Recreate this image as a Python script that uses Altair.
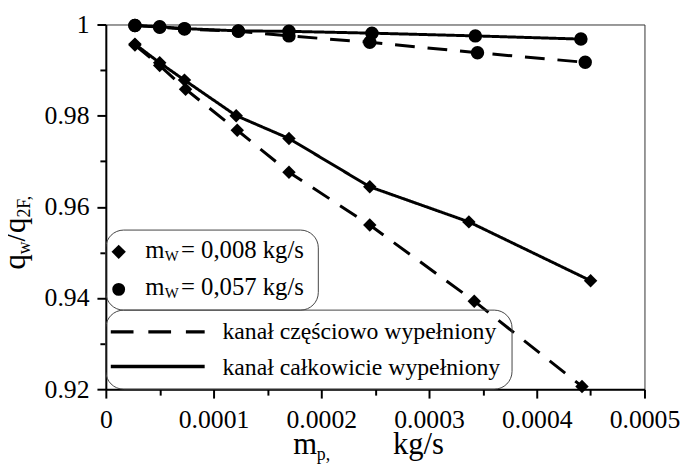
import altair as alt
import pandas as pd

FONT = "Liberation Serif"

# ---- data ----
# diamonds, m_W = 0,008 kg/s
x_dia_dash = [0.000027, 0.000050, 0.000074, 0.000122, 0.000170, 0.000245, 0.000342, 0.000442]
y_dia_dash = [0.9955, 0.9910, 0.9858, 0.9768, 0.9676, 0.9560, 0.9393, 0.9206]
x_dia_solid = [0.000027, 0.000050, 0.000073, 0.000121, 0.000170, 0.000245, 0.000337, 0.000450]
y_dia_solid = [0.9957, 0.9916, 0.9878, 0.9800, 0.9750, 0.9644, 0.9567, 0.9438]
# circles, m_W = 0,057 kg/s
x_cir_dash = [0.000027, 0.000050, 0.000073, 0.000123, 0.000170, 0.000245, 0.000345, 0.000445]
y_cir_dash = [0.9998, 0.9994, 0.9990, 0.9985, 0.9975, 0.9961, 0.9938, 0.9917]
x_cir_solid = [0.000027, 0.000050, 0.000073, 0.000123, 0.000170, 0.000247, 0.000343, 0.000441]
y_cir_solid = [0.9998, 0.9995, 0.9991, 0.9986, 0.9985, 0.9981, 0.9975, 0.9968]

x_major = [0, 0.0001, 0.0002, 0.0003, 0.0004, 0.0005]
x_minor = [0.00005, 0.00015, 0.00025, 0.00035, 0.00045]
y_major = [0.92, 0.94, 0.96, 0.98, 1.0]
y_minor = [0.93, 0.95, 0.97, 0.99]

legend_marker_labels = ["= 0,008 kg/s", "= 0,057 kg/s"]
legend_line_labels = ["kanał częściowo wypełniony", "kanał całkowicie wypełniony"]

series = [
    ("dia_dash", x_dia_dash, y_dia_dash, "diamond", "dashed"),
    ("dia_solid", x_dia_solid, y_dia_solid, "diamond", "solid"),
    ("cir_dash", x_cir_dash, y_cir_dash, "circle", "dashed"),
    ("cir_solid", x_cir_solid, y_cir_solid, "circle", "solid"),
]
rows = []
for name, xs, ys, marker, dash in series:
    for i, (xv, yv) in enumerate(zip(xs, ys)):
        rows.append({"series": name, "x": xv, "y": yv, "marker": marker, "dash": dash, "order": i})
df = pd.DataFrame(rows)
one = pd.DataFrame({"a": [0]})

xscale = alt.Scale(domain=[0, 0.0005], nice=False, zero=False)
yscale = alt.Scale(domain=[0.92, 1.0], nice=False, zero=False)

common = dict(labelFont=FONT, labelFontSize=26, labelColor="black", tickColor="black",
              tickWidth=2, tickSize=9, domainColor="black", domainWidth=2, grid=False,
              title=None, format="~f", labelFlush=False, labelOverlap=False)
x_axis = alt.Axis(values=x_major, labelPadding=9, orient="bottom", **common)
y_axis = alt.Axis(values=y_major, labelPadding=8, orient="left", **common)
x_minor_axis = alt.Axis(values=x_minor, labels=False, domain=False, tickSize=6, tickWidth=2,
                        tickColor="black", grid=False, title=None, orient="bottom")
y_minor_axis = alt.Axis(values=y_minor, labels=False, domain=False, tickSize=6, tickWidth=2,
                        tickColor="black", grid=False, title=None, orient="left")

base = alt.Chart(df)

lines = base.mark_line(color="black", strokeWidth=3).encode(
    x=alt.X("x:Q", scale=xscale, axis=x_axis),
    y=alt.Y("y:Q", scale=yscale, axis=y_axis),
    detail="series:N",
    order="order:Q",
    strokeDash=alt.StrokeDash("dash:N", scale=alt.Scale(domain=["dashed", "solid"],
                                                        range=[[20, 13], [1, 0]]), legend=None),
)

points = base.mark_point(filled=True, color="black", opacity=1, size=185).encode(
    x=alt.X("x:Q", scale=xscale, axis=None),
    y=alt.Y("y:Q", scale=yscale, axis=None),
    shape=alt.Shape("marker:N", scale=alt.Scale(domain=["diamond", "circle"],
                                                range=["diamond", "circle"]), legend=None),
)

minor = base.mark_point(opacity=0).encode(
    x=alt.X("x:Q", scale=xscale, axis=x_minor_axis),
    y=alt.Y("y:Q", scale=yscale, axis=y_minor_axis),
)

# ---- legend boxes ----
box1 = alt.Chart(one).mark_rect(fill="transparent", stroke="#444", strokeWidth=1, cornerRadius=18).encode(
    x=alt.value(0), x2=alt.value(215), y=alt.value(208), y2=alt.value(289))
box2 = alt.Chart(one).mark_rect(fill="transparent", stroke="#444", strokeWidth=1, cornerRadius=18).encode(
    x=alt.value(0), x2=alt.value(411), y=alt.value(289), y2=alt.value(369))

sym1 = alt.Chart(one).mark_point(shape="diamond", filled=True, color="black", opacity=1, size=210).encode(
    x=alt.value(13), y=alt.value(230))
sym2 = alt.Chart(one).mark_point(shape="circle", filled=True, color="black", opacity=1, size=170).encode(
    x=alt.value(13), y=alt.value(268))
rule1 = alt.Chart(one).mark_rule(color="black", strokeWidth=3.5, strokeDash=[23, 15]).encode(
    x=alt.value(5), x2=alt.value(100), y=alt.value(311))
rule2 = alt.Chart(one).mark_rule(color="black", strokeWidth=3.5).encode(
    x=alt.value(5), x2=alt.value(100), y=alt.value(346))


def txt(s, x, y, size, angle=0):
    kw = dict(align="left", baseline="alphabetic", font=FONT, fontSize=size, color="black")
    if angle:
        kw["angle"] = angle
    return alt.Chart(one).mark_text(**kw).encode(x=alt.value(x), y=alt.value(y), text=alt.value(s))


texts = [
    txt("m", 40, 236, 25), txt("W", 59.5, 239, 15), txt(legend_marker_labels[0], 76, 236, 25),
    txt("m", 40, 274, 25), txt("W", 59.5, 277, 15), txt(legend_marker_labels[1], 76, 274, 25),
    txt(legend_line_labels[0], 118, 318, 24),
    txt(legend_line_labels[1], 118, 355, 24),
    # x-axis title
    txt("m", 189.5, 434.7, 31), txt("p,", 213.5, 440.5, 18), txt("kg/s", 290.5, 434.7, 31),
    # y-axis title (rotated)
    txt("q", -82, 248, 31, 270), txt("w", -77, 232.5, 18, 270), txt("/", -82, 219.5, 31, 270),
    txt("q", -82, 210.9, 31, 270), txt("2F,", -77, 195.4, 18, 270),
]

chart = alt.layer(lines, points, minor, box1, box2, sym1, sym2, rule1, rule2, *texts).resolve_axis(
    x="independent", y="independent"
).properties(
    width=545, height=369,
    autosize=alt.AutoSizeParams(type="none"),
    padding={"left": 99, "top": 14, "right": 40, "bottom": 73},
    background="white",
).configure_view(stroke="#333", strokeWidth=1)

chart.save("out.html", embed_options={"renderer": "svg", "actions": False})
